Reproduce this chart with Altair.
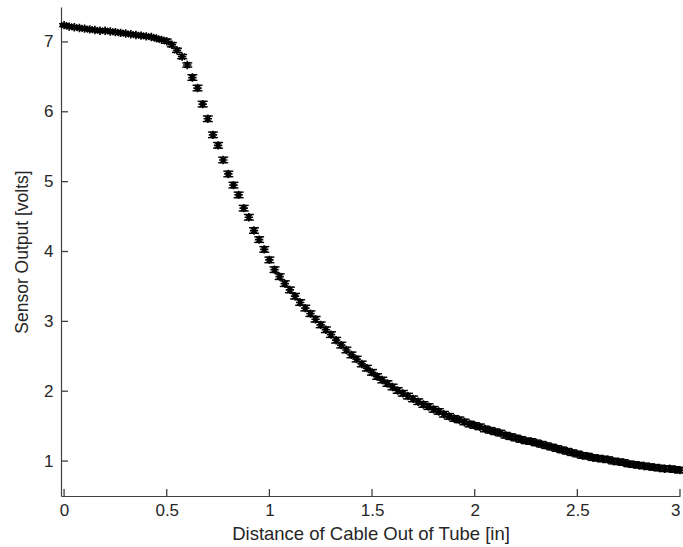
import altair as alt
import pandas as pd

distance = [
    0.000, 0.025, 0.050, 0.075, 0.100, 0.125, 0.150, 0.175, 0.200, 0.225,
    0.250, 0.275, 0.300, 0.325, 0.350, 0.375, 0.400, 0.425, 0.450, 0.475,
    0.500, 0.525, 0.550, 0.575, 0.600, 0.625, 0.650, 0.675, 0.700, 0.725,
    0.750, 0.775, 0.800, 0.825, 0.850, 0.875, 0.900, 0.925, 0.950, 0.975,
    1.000, 1.025, 1.050, 1.075, 1.100, 1.125, 1.150, 1.175, 1.200, 1.225,
    1.250, 1.275, 1.300, 1.325, 1.350, 1.375, 1.400, 1.425, 1.450, 1.475,
    1.500, 1.525, 1.550, 1.575, 1.600, 1.625, 1.650, 1.675, 1.700, 1.725,
    1.750, 1.775, 1.800, 1.825, 1.850, 1.875, 1.900, 1.925, 1.950, 1.975,
    2.000, 2.025, 2.050, 2.075, 2.100, 2.125, 2.150, 2.175, 2.200, 2.225,
    2.250, 2.275, 2.300, 2.325, 2.350, 2.375, 2.400, 2.425, 2.450, 2.475,
    2.500, 2.525, 2.550, 2.575, 2.600, 2.625, 2.650, 2.675, 2.700, 2.725,
    2.750, 2.775, 2.800, 2.825, 2.850, 2.875, 2.900, 2.925, 2.950, 2.975,
    3.000,
]

voltage = [
    7.24, 7.22, 7.21, 7.20, 7.19, 7.18, 7.17, 7.16, 7.16, 7.15,
    7.14, 7.13, 7.12, 7.11, 7.10, 7.09, 7.08, 7.07, 7.05, 7.03,
    7.01, 6.96, 6.88, 6.79, 6.67, 6.49, 6.34, 6.11, 5.90, 5.67,
    5.52, 5.31, 5.11, 4.95, 4.81, 4.62, 4.49, 4.30, 4.17, 4.03,
    3.88, 3.74, 3.64, 3.54, 3.45, 3.36, 3.27, 3.19, 3.11, 3.03,
    2.95, 2.88, 2.81, 2.73, 2.66, 2.59, 2.52, 2.46, 2.39, 2.33,
    2.27, 2.21, 2.16, 2.11, 2.06, 2.01, 1.97, 1.93, 1.89, 1.85,
    1.81, 1.78, 1.74, 1.71, 1.67, 1.64, 1.61, 1.59, 1.56, 1.53,
    1.51, 1.49, 1.46, 1.44, 1.42, 1.40, 1.37, 1.35, 1.33, 1.31,
    1.29, 1.28, 1.26, 1.24, 1.22, 1.20, 1.18, 1.16, 1.14, 1.12,
    1.10, 1.08, 1.07, 1.05, 1.04, 1.03, 1.02, 1.00, 0.99, 0.98,
    0.96, 0.95, 0.94, 0.93, 0.92, 0.91, 0.90, 0.89, 0.89, 0.88,
    0.87,
]

error = [
    0.02, 0.02, 0.02, 0.02, 0.02, 0.02, 0.02, 0.02, 0.02, 0.02,
    0.02, 0.02, 0.02, 0.02, 0.02, 0.02, 0.02, 0.02, 0.02, 0.02,
    0.03, 0.03, 0.03, 0.03, 0.03, 0.04, 0.04, 0.04, 0.04, 0.04,
    0.04, 0.04, 0.04, 0.04, 0.04, 0.04, 0.04, 0.04, 0.04, 0.04,
    0.04, 0.04, 0.04, 0.04, 0.04, 0.04, 0.04, 0.04, 0.04, 0.04,
    0.04, 0.04, 0.04, 0.04, 0.04, 0.04, 0.04, 0.04, 0.04, 0.04,
    0.04, 0.04, 0.04, 0.04, 0.04, 0.04, 0.04, 0.04, 0.04, 0.04,
    0.04, 0.04, 0.04, 0.04, 0.04, 0.04, 0.04, 0.04, 0.04, 0.04,
    0.04, 0.04, 0.04, 0.04, 0.04, 0.04, 0.04, 0.04, 0.04, 0.04,
    0.04, 0.04, 0.04, 0.04, 0.04, 0.04, 0.04, 0.04, 0.04, 0.04,
    0.04, 0.04, 0.04, 0.04, 0.04, 0.04, 0.04, 0.04, 0.04, 0.04,
    0.04, 0.04, 0.04, 0.04, 0.04, 0.04, 0.04, 0.04, 0.04, 0.04,
    0.04,
]

x_ticks = [0, 0.5, 1, 1.5, 2, 2.5, 3]
y_ticks = [1, 2, 3, 4, 5, 6, 7]

df = pd.DataFrame({"x": distance, "y": voltage, "err": error})
df["lo"] = df["y"] - df["err"]
df["hi"] = df["y"] + df["err"]

W, H = 619, 489
FONT = "Liberation Sans"
TXT = "#262626"
AX = "#404040"

xscale = alt.Scale(domain=[-0.015, 3], nice=False, zero=False)
yscale = alt.Scale(domain=[0.5, 7.5], nice=False, zero=False)

xaxis = alt.Axis(values=x_ticks, ticks=False, grid=False, labelFontSize=17,
                 labelFont=FONT, labelColor=TXT, labelPadding=6,
                 title="Distance of Cable Out of Tube [in]", titleFont=FONT,
                 titleFontSize=18.5, titleFontWeight="normal", titleColor=TXT,
                 titlePadding=6, domainColor=AX, domainWidth=1.2,
                 labelExpr="format(datum.value, '~g')")
yaxis = alt.Axis(values=y_ticks, ticks=False, grid=False, labelFontSize=17,
                 labelFont=FONT, labelColor=TXT, labelPadding=8,
                 title="Sensor Output [volts]", titleFont=FONT,
                 titleFontSize=17.5, titleFontWeight="normal", titleColor=TXT,
                 titlePadding=12, domainColor=AX, domainWidth=1.2,
                 labelExpr="format(datum.value, 'd')")

base = alt.Chart(df)

asterisk = "M-1,0L1,0M0,-1L0,1M-0.7,-0.7L0.7,0.7M-0.7,0.7L0.7,-0.7"

points = base.mark_point(shape=asterisk, filled=False, color="black",
                         strokeWidth=1.7, size=70, opacity=1).encode(
    x=alt.X("x:Q", scale=xscale, axis=xaxis),
    y=alt.Y("y:Q", scale=yscale, axis=yaxis),
)

bars = base.mark_rule(color="black", strokeWidth=1).encode(
    x="x:Q", y="lo:Q", y2="hi:Q")

cap_lo = base.mark_tick(orient="horizontal", color="black", size=10,
                        thickness=1.4, opacity=1).encode(x="x:Q", y="lo:Q")
cap_hi = base.mark_tick(orient="horizontal", color="black", size=10,
                        thickness=1.4, opacity=1).encode(x="x:Q", y="hi:Q")

xt = pd.DataFrame({"v": x_ticks})
yt = pd.DataFrame({"v": y_ticks})

xtick_marks = alt.Chart(xt).mark_rule(color=AX, strokeWidth=1.3, opacity=1).encode(
    x=alt.X("v:Q", scale=xscale), y=alt.value(H), y2=alt.value(H - 7))
ytick_marks = alt.Chart(yt).mark_rule(color=AX, strokeWidth=1.3, opacity=1).encode(
    y=alt.Y("v:Q", scale=yscale), x=alt.value(0), x2=alt.value(7))

chart = alt.layer(points, bars, cap_lo, cap_hi, xtick_marks, ytick_marks).properties(
    width=W, height=H,
    autosize=alt.AutoSizeParams(type="none"),
    padding={"left": 61, "top": 7, "right": 3, "bottom": 51},
    background="white",
).configure_view(stroke=None)

chart.save("out.html", embed_options={"renderer": "svg", "actions": False})
